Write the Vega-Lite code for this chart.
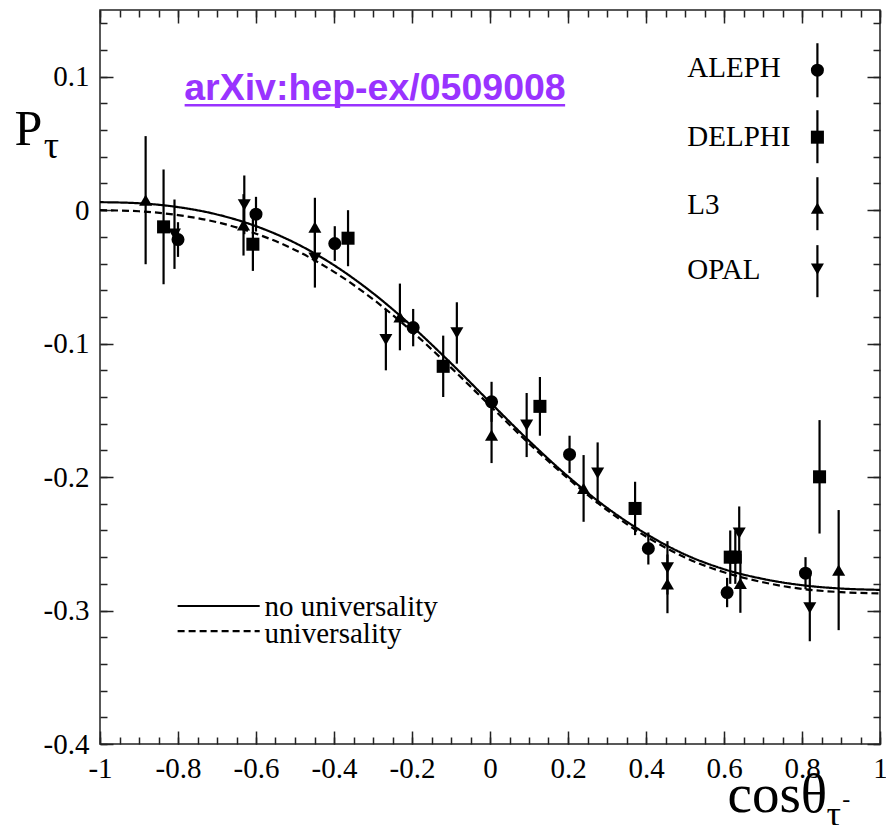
{
  "$schema": "https://vega.github.io/schema/vega-lite/v6.json",
  "width": 780,
  "height": 734,
  "autosize": {"type": "none"},
  "padding": {"left": 100, "top": 10, "right": 6, "bottom": 81},
  "background": "white",
  "config": {
    "view": {"stroke": "#222222", "strokeWidth": 1.5},
    "font": "Liberation Serif",
    "style": {"guide-label": {"font": "Liberation Serif"}},
    "axis": {"domain": false, "grid": false, "title": null, "tickColor": "#222222", "tickWidth": 1.5, "labelFont": "Liberation Serif", "labelFontSize": 29, "labelColor": "black", "labelOverlap": false, "labelFlush": false, "labelBound": false}
  },
  "datasets": {
    "curve": [
      {"kind": "no universality", "c": -1.0, "p": 0.0060},
      {"kind": "no universality", "c": -0.9, "p": 0.0052},
      {"kind": "no universality", "c": -0.8, "p": 0.0023},
      {"kind": "no universality", "c": -0.7, "p": -0.0032},
      {"kind": "no universality", "c": -0.6, "p": -0.0120},
      {"kind": "no universality", "c": -0.5, "p": -0.0245},
      {"kind": "no universality", "c": -0.4, "p": -0.0412},
      {"kind": "no universality", "c": -0.3, "p": -0.0622},
      {"kind": "no universality", "c": -0.2, "p": -0.0870},
      {"kind": "no universality", "c": -0.1, "p": -0.1147},
      {"kind": "no universality", "c": 0.0, "p": -0.1439},
      {"kind": "no universality", "c": 0.1, "p": -0.1728},
      {"kind": "no universality", "c": 0.2, "p": -0.1995},
      {"kind": "no universality", "c": 0.3, "p": -0.2230},
      {"kind": "no universality", "c": 0.4, "p": -0.2425},
      {"kind": "no universality", "c": 0.5, "p": -0.2580},
      {"kind": "no universality", "c": 0.6, "p": -0.2690},
      {"kind": "no universality", "c": 0.7, "p": -0.2763},
      {"kind": "no universality", "c": 0.8, "p": -0.2810},
      {"kind": "no universality", "c": 0.9, "p": -0.2835},
      {"kind": "no universality", "c": 1.0, "p": -0.2845},
      {"kind": "universality", "c": -1.0, "p": 0.0},
      {"kind": "universality", "c": -0.9, "p": -0.0008},
      {"kind": "universality", "c": -0.8, "p": -0.0037},
      {"kind": "universality", "c": -0.7, "p": -0.0090},
      {"kind": "universality", "c": -0.6, "p": -0.0176},
      {"kind": "universality", "c": -0.5, "p": -0.0298},
      {"kind": "universality", "c": -0.4, "p": -0.0462},
      {"kind": "universality", "c": -0.3, "p": -0.0667},
      {"kind": "universality", "c": -0.2, "p": -0.0909},
      {"kind": "universality", "c": -0.1, "p": -0.1180},
      {"kind": "universality", "c": 0.0, "p": -0.1465},
      {"kind": "universality", "c": 0.1, "p": -0.1748},
      {"kind": "universality", "c": 0.2, "p": -0.2010},
      {"kind": "universality", "c": 0.3, "p": -0.2247},
      {"kind": "universality", "c": 0.4, "p": -0.2445},
      {"kind": "universality", "c": 0.5, "p": -0.2602},
      {"kind": "universality", "c": 0.6, "p": -0.2713},
      {"kind": "universality", "c": 0.7, "p": -0.2788},
      {"kind": "universality", "c": 0.8, "p": -0.2838},
      {"kind": "universality", "c": 0.9, "p": -0.2862},
      {"kind": "universality", "c": 1.0, "p": -0.2872}
    ],
    "points": [
      {"exp": "ALEPH", "x": -0.800, "y": -0.0220, "lo": -0.0350, "hi": -0.0090},
      {"exp": "ALEPH", "x": -0.600, "y": -0.0030, "lo": -0.0160, "hi": 0.0100},
      {"exp": "ALEPH", "x": -0.398, "y": -0.0250, "lo": -0.0380, "hi": -0.0120},
      {"exp": "ALEPH", "x": -0.197, "y": -0.0880, "lo": -0.1020, "hi": -0.0740},
      {"exp": "ALEPH", "x": 0.004, "y": -0.1436, "lo": -0.1586, "hi": -0.1286},
      {"exp": "ALEPH", "x": 0.204, "y": -0.1830, "lo": -0.1970, "hi": -0.1690},
      {"exp": "ALEPH", "x": 0.406, "y": -0.2535, "lo": -0.2655, "hi": -0.2415},
      {"exp": "ALEPH", "x": 0.608, "y": -0.2865, "lo": -0.2975, "hi": -0.2755},
      {"exp": "ALEPH", "x": 0.809, "y": -0.2720, "lo": -0.2840, "hi": -0.2600},
      {"exp": "DELPHI", "x": -0.837, "y": -0.0125, "lo": -0.0555, "hi": 0.0305},
      {"exp": "DELPHI", "x": -0.608, "y": -0.0255, "lo": -0.0455, "hi": -0.0055},
      {"exp": "DELPHI", "x": -0.364, "y": -0.0210, "lo": -0.0420, "hi": 0.0000},
      {"exp": "DELPHI", "x": -0.120, "y": -0.1170, "lo": -0.1400, "hi": -0.0940},
      {"exp": "DELPHI", "x": 0.128, "y": -0.1470, "lo": -0.1690, "hi": -0.1250},
      {"exp": "DELPHI", "x": 0.372, "y": -0.2235, "lo": -0.2435, "hi": -0.2035},
      {"exp": "DELPHI", "x": 0.616, "y": -0.2600, "lo": -0.2800, "hi": -0.2400},
      {"exp": "DELPHI", "x": 0.629, "y": -0.2600, "lo": -0.2800, "hi": -0.2400},
      {"exp": "DELPHI", "x": 0.845, "y": -0.1998, "lo": -0.2423, "hi": -0.1573},
      {"exp": "L3", "x": -0.883, "y": 0.0075, "lo": -0.0405, "hi": 0.0555},
      {"exp": "L3", "x": -0.632, "y": -0.0110, "lo": -0.0340, "hi": 0.0120},
      {"exp": "L3", "x": -0.449, "y": -0.0127, "lo": -0.0347, "hi": 0.0093},
      {"exp": "L3", "x": -0.231, "y": -0.0800, "lo": -0.1050, "hi": -0.0550},
      {"exp": "L3", "x": 0.004, "y": -0.1685, "lo": -0.1895, "hi": -0.1475},
      {"exp": "L3", "x": 0.240, "y": -0.2085, "lo": -0.2335, "hi": -0.1835},
      {"exp": "L3", "x": 0.455, "y": -0.2800, "lo": -0.3020, "hi": -0.2580},
      {"exp": "L3", "x": 0.642, "y": -0.2797, "lo": -0.3017, "hi": -0.2577},
      {"exp": "L3", "x": 0.894, "y": -0.2697, "lo": -0.3147, "hi": -0.2247},
      {"exp": "OPAL", "x": -0.809, "y": -0.0180, "lo": -0.0440, "hi": 0.0080},
      {"exp": "OPAL", "x": -0.630, "y": 0.0040, "lo": -0.0180, "hi": 0.0260},
      {"exp": "OPAL", "x": -0.449, "y": -0.0360, "lo": -0.0580, "hi": -0.0140},
      {"exp": "OPAL", "x": -0.267, "y": -0.0970, "lo": -0.1200, "hi": -0.0740},
      {"exp": "OPAL", "x": -0.085, "y": -0.0920, "lo": -0.1150, "hi": -0.0690},
      {"exp": "OPAL", "x": 0.094, "y": -0.1610, "lo": -0.1850, "hi": -0.1370},
      {"exp": "OPAL", "x": 0.276, "y": -0.1970, "lo": -0.2200, "hi": -0.1740},
      {"exp": "OPAL", "x": 0.455, "y": -0.2680, "lo": -0.2880, "hi": -0.2480},
      {"exp": "OPAL", "x": 0.639, "y": -0.2420, "lo": -0.2620, "hi": -0.2220},
      {"exp": "OPAL", "x": 0.820, "y": -0.2980, "lo": -0.3230, "hi": -0.2730}
    ],
    "legend": [
      {"exp": "ALEPH", "lx": 0.506, "ly": 0.1064, "mx": 0.8395, "my": 0.1049, "mlo": 0.0846, "mhi": 0.1251},
      {"exp": "DELPHI", "lx": 0.506, "ly": 0.0547, "mx": 0.8395, "my": 0.0547, "mlo": 0.0352, "mhi": 0.0749},
      {"exp": "L3", "lx": 0.506, "ly": 0.0037, "mx": 0.8395, "my": 0.0015, "mlo": -0.0150, "mhi": 0.0247},
      {"exp": "OPAL", "lx": 0.506, "ly": -0.0449, "mx": 0.8395, "my": -0.0442, "mlo": -0.0652, "mhi": -0.0262}
    ],
    "curvelegend": [
      {"kind": "no universality", "x1": -0.801, "x2": -0.5905, "y": -0.2966, "tx": -0.578, "ty": -0.2974},
      {"kind": "universality", "x1": -0.801, "x2": -0.5905, "y": -0.3154, "tx": -0.578, "ty": -0.3176}
    ]
  },
  "layer": [
    {
      "data": {"name": "curve"},
      "mark": {"type": "line", "color": "black", "strokeWidth": 2.2, "interpolate": "monotone"},
      "encoding": {
        "x": {"field": "c", "type": "quantitative", "scale": {"domain": [-1, 1], "nice": false, "zero": false},
              "axis": {"orient": "bottom", "values": [-1, -0.8, -0.6, -0.4, -0.2, 0, 0.2, 0.4, 0.6, 0.8, 1], "tickSize": -13, "labelPadding": 23, "labelFont": "Liberation Serif", "labelFontSize": 29, "labelExpr": "datum.value < 0 ? '-' + format(-datum.value, '~g') : format(datum.value, '~g')"}},
        "y": {"field": "p", "type": "quantitative", "scale": {"domain": [-0.4, 0.15], "nice": false, "zero": false},
              "axis": {"orient": "left", "values": [-0.4, -0.3, -0.2, -0.1, 0, 0.1], "tickSize": -13, "labelPadding": 24, "labelFont": "Liberation Serif", "labelFontSize": 29, "labelExpr": "datum.value < 0 ? '-' + format(-datum.value, '~g') : format(datum.value, '~g')"}},
        "strokeDash": {"field": "kind", "type": "nominal", "scale": {"domain": ["no universality", "universality"], "range": [[1, 0], [7, 4]]}, "legend": null}
      }
    },
    {
      "data": {"name": "points"},
      "mark": {"type": "rule", "color": "black", "strokeWidth": 2.2},
      "encoding": {
        "x": {"field": "x", "type": "quantitative", "scale": {"domain": [-1, 1], "nice": false, "zero": false},
              "axis": {"orient": "bottom", "values": [-1, -0.95, -0.9, -0.85, -0.8, -0.75, -0.7, -0.65, -0.6, -0.55, -0.5, -0.45, -0.4, -0.35, -0.3, -0.25, -0.2, -0.15, -0.1, -0.05, 0, 0.05, 0.1, 0.15, 0.2, 0.25, 0.3, 0.35, 0.4, 0.45, 0.5, 0.55, 0.6, 0.65, 0.7, 0.75, 0.8, 0.85, 0.9, 0.95, 1], "tickSize": -7, "labels": false}},
        "y": {"field": "lo", "type": "quantitative", "scale": {"domain": [-0.4, 0.15], "nice": false, "zero": false},
              "axis": {"orient": "left", "values": [-0.4, -0.38, -0.36, -0.34, -0.32, -0.3, -0.28, -0.26, -0.24, -0.22, -0.2, -0.18, -0.16, -0.14, -0.12, -0.1, -0.08, -0.06, -0.04, -0.02, 0, 0.02, 0.04, 0.06, 0.08, 0.1, 0.12, 0.14], "tickSize": -7, "labels": false}},
        "y2": {"field": "hi"}
      }
    },
    {
      "data": {"name": "points"},
      "mark": {"type": "point", "filled": true, "color": "black", "opacity": 1, "size": 170},
      "encoding": {
        "x": {"field": "x", "type": "quantitative", "scale": {"domain": [-1, 1], "nice": false, "zero": false},
              "axis": {"orient": "top", "values": [-1, -0.8, -0.6, -0.4, -0.2, 0, 0.2, 0.4, 0.6, 0.8, 1], "tickSize": -13, "labels": false}},
        "y": {"field": "y", "type": "quantitative", "scale": {"domain": [-0.4, 0.15], "nice": false, "zero": false},
              "axis": {"orient": "right", "values": [-0.4, -0.3, -0.2, -0.1, 0, 0.1], "tickSize": -13, "labels": false}},
        "shape": {"field": "exp", "type": "nominal", "scale": {"domain": ["ALEPH", "DELPHI", "L3", "OPAL"], "range": ["circle", "square", "triangle-up", "triangle-down"]}, "legend": null}
      }
    },
    {
      "data": {"name": "legend"},
      "mark": {"type": "text", "font": "Liberation Serif", "fontSize": 29, "align": "left", "baseline": "middle", "color": "black"},
      "encoding": {
        "x": {"field": "lx", "type": "quantitative", "scale": {"domain": [-1, 1], "nice": false, "zero": false},
              "axis": {"orient": "top", "values": [-1, -0.95, -0.9, -0.85, -0.8, -0.75, -0.7, -0.65, -0.6, -0.55, -0.5, -0.45, -0.4, -0.35, -0.3, -0.25, -0.2, -0.15, -0.1, -0.05, 0, 0.05, 0.1, 0.15, 0.2, 0.25, 0.3, 0.35, 0.4, 0.45, 0.5, 0.55, 0.6, 0.65, 0.7, 0.75, 0.8, 0.85, 0.9, 0.95, 1], "tickSize": -7, "labels": false}},
        "y": {"field": "ly", "type": "quantitative", "scale": {"domain": [-0.4, 0.15], "nice": false, "zero": false},
              "axis": {"orient": "right", "values": [-0.4, -0.38, -0.36, -0.34, -0.32, -0.3, -0.28, -0.26, -0.24, -0.22, -0.2, -0.18, -0.16, -0.14, -0.12, -0.1, -0.08, -0.06, -0.04, -0.02, 0, 0.02, 0.04, 0.06, 0.08, 0.1, 0.12, 0.14], "tickSize": -7, "labels": false}},
        "text": {"field": "exp"}
      }
    },
    {
      "data": {"name": "legend"},
      "mark": {"type": "rule", "color": "black", "strokeWidth": 2.2},
      "encoding": {
        "x": {"field": "mx", "type": "quantitative", "scale": {"domain": [-1, 1], "nice": false, "zero": false}, "axis": null},
        "y": {"field": "mlo", "type": "quantitative", "scale": {"domain": [-0.4, 0.15], "nice": false, "zero": false}, "axis": null},
        "y2": {"field": "mhi"}
      }
    },
    {
      "data": {"name": "legend"},
      "mark": {"type": "point", "filled": true, "color": "black", "opacity": 1, "size": 170},
      "encoding": {
        "x": {"field": "mx", "type": "quantitative", "scale": {"domain": [-1, 1], "nice": false, "zero": false}, "axis": null},
        "y": {"field": "my", "type": "quantitative", "scale": {"domain": [-0.4, 0.15], "nice": false, "zero": false}, "axis": null},
        "shape": {"field": "exp", "type": "nominal", "legend": null}
      }
    },
    {
      "data": {"name": "curvelegend"},
      "mark": {"type": "rule", "color": "black", "strokeWidth": 2.2},
      "encoding": {
        "x": {"field": "x1", "type": "quantitative", "scale": {"domain": [-1, 1], "nice": false, "zero": false}, "axis": null},
        "x2": {"field": "x2"},
        "y": {"field": "y", "type": "quantitative", "scale": {"domain": [-0.4, 0.15], "nice": false, "zero": false}, "axis": null},
        "strokeDash": {"field": "kind", "type": "nominal", "legend": null}
      }
    },
    {
      "data": {"name": "curvelegend"},
      "mark": {"type": "text", "font": "Liberation Serif", "fontSize": 29, "align": "left", "baseline": "middle", "color": "black"},
      "encoding": {
        "x": {"field": "tx", "type": "quantitative", "scale": {"domain": [-1, 1], "nice": false, "zero": false}, "axis": null},
        "y": {"field": "ty", "type": "quantitative", "scale": {"domain": [-0.4, 0.15], "nice": false, "zero": false}, "axis": null},
        "text": {"field": "kind"}
      }
    },
    {
      "data": {"values": [{"t": "arXiv:hep-ex/0509008", "x": -0.295, "y": 0.0905}]},
      "mark": {"type": "text", "font": "Liberation Sans", "fontWeight": "bold", "fontSize": 37.5, "align": "center", "baseline": "middle", "color": "#9933ff"},
      "encoding": {
        "x": {"field": "x", "type": "quantitative", "scale": {"domain": [-1, 1], "nice": false, "zero": false}, "axis": null},
        "y": {"field": "y", "type": "quantitative", "scale": {"domain": [-0.4, 0.15], "nice": false, "zero": false}, "axis": null},
        "text": {"field": "t"}
      }
    },
    {
      "data": {"values": [{"x1": -0.783, "x2": 0.1926, "y": 0.0786}]},
      "mark": {"type": "rule", "color": "#9933ff", "strokeWidth": 2.5},
      "encoding": {
        "x": {"field": "x1", "type": "quantitative", "scale": {"domain": [-1, 1], "nice": false, "zero": false}, "axis": null},
        "x2": {"field": "x2"},
        "y": {"field": "y", "type": "quantitative", "scale": {"domain": [-0.4, 0.15], "nice": false, "zero": false}, "axis": null}
      }
    },
    {
      "data": {"values": [{"t": "P", "x": -1.2195, "y": 0.0487}]},
      "mark": {"type": "text", "font": "Liberation Serif", "fontSize": 50, "align": "left", "baseline": "alphabetic", "color": "black"},
      "encoding": {
        "x": {"field": "x", "type": "quantitative", "scale": {"domain": [-1, 1], "nice": false, "zero": false}, "axis": null},
        "y": {"field": "y", "type": "quantitative", "scale": {"domain": [-0.4, 0.15], "nice": false, "zero": false}, "axis": null},
        "text": {"field": "t"}
      }
    },
    {
      "data": {"values": [{"t": "τ", "x": -1.1445, "y": 0.0390}]},
      "mark": {"type": "text", "font": "Liberation Serif", "fontSize": 38, "align": "left", "baseline": "alphabetic", "color": "black"},
      "encoding": {
        "x": {"field": "x", "type": "quantitative", "scale": {"domain": [-1, 1], "nice": false, "zero": false}, "axis": null},
        "y": {"field": "y", "type": "quantitative", "scale": {"domain": [-0.4, 0.15], "nice": false, "zero": false}, "axis": null},
        "text": {"field": "t"}
      }
    },
    {
      "data": {"values": [{"t": "cosθ", "x": 0.609, "y": -0.4509}]},
      "mark": {"type": "text", "font": "Liberation Serif", "fontSize": 55, "align": "left", "baseline": "alphabetic", "color": "black"},
      "encoding": {
        "x": {"field": "x", "type": "quantitative", "scale": {"domain": [-1, 1], "nice": false, "zero": false}, "axis": null},
        "y": {"field": "y", "type": "quantitative", "scale": {"domain": [-0.4, 0.15], "nice": false, "zero": false}, "axis": null},
        "text": {"field": "t"}
      }
    },
    {
      "data": {"values": [{"t": "τ", "x": 0.8626, "y": -0.4614}]},
      "mark": {"type": "text", "font": "Liberation Serif", "fontSize": 36, "align": "left", "baseline": "alphabetic", "color": "black"},
      "encoding": {
        "x": {"field": "x", "type": "quantitative", "scale": {"domain": [-1, 1], "nice": false, "zero": false}, "axis": null},
        "y": {"field": "y", "type": "quantitative", "scale": {"domain": [-0.4, 0.15], "nice": false, "zero": false}, "axis": null},
        "text": {"field": "t"}
      }
    },
    {
      "data": {"values": [{"t": "-", "x": 0.9035, "y": -0.4470}]},
      "mark": {"type": "text", "font": "Liberation Serif", "fontSize": 24, "align": "left", "baseline": "alphabetic", "color": "black"},
      "encoding": {
        "x": {"field": "x", "type": "quantitative", "scale": {"domain": [-1, 1], "nice": false, "zero": false}, "axis": null},
        "y": {"field": "y", "type": "quantitative", "scale": {"domain": [-0.4, 0.15], "nice": false, "zero": false}, "axis": null},
        "text": {"field": "t"}
      }
    }
  ],
  "resolve": {"axis": {"x": "independent", "y": "independent"}}
}
